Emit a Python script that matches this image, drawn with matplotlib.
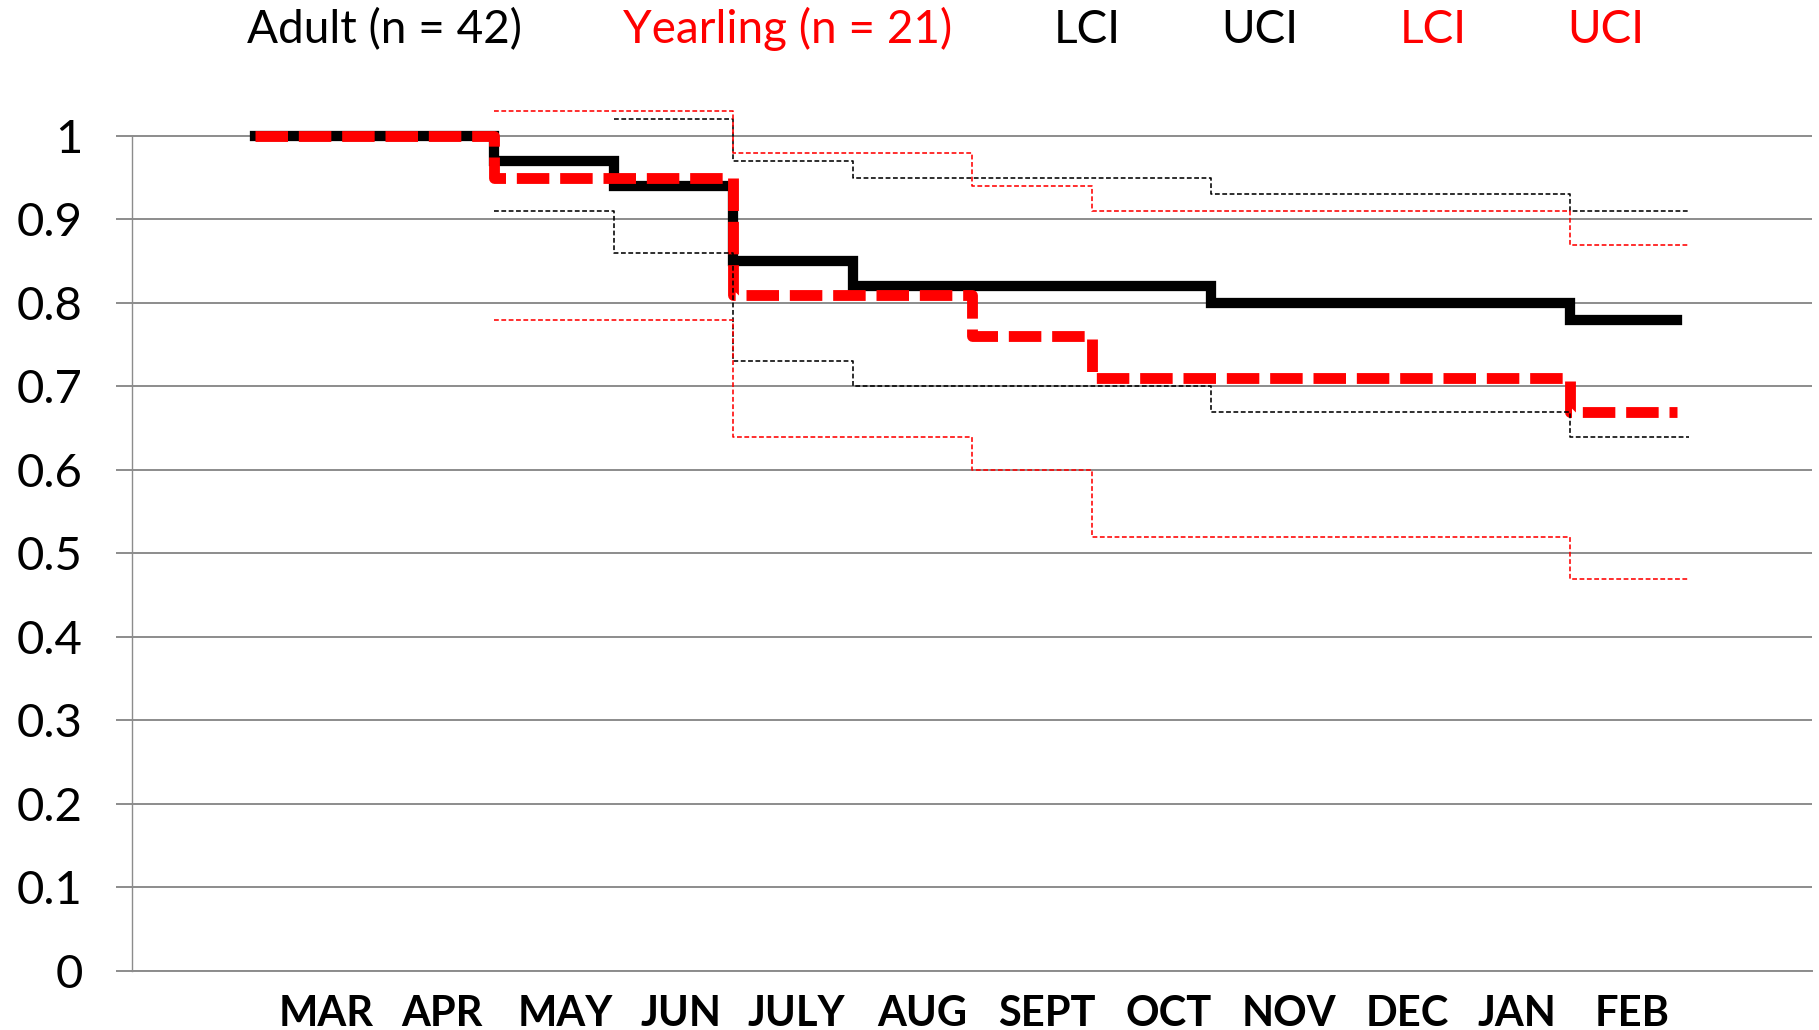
import numpy as np
import matplotlib
matplotlib.use("Agg")
from matplotlib import pyplot as plt
from matplotlib.lines import Line2D

plt.rcParams['font.family'] = ['Lato', 'DejaVu Sans']

# month units on x axis (MAR = 0)
months = ["MAR", "APR", "MAY", "JUN", "JULY", "AUG", "SEPT", "OCT",
          "NOV", "DEC", "JAN", "FEB"]
month_pos = [0.01, 0.98, 2.01, 2.98, 3.95, 5.0, 6.04, 7.06, 8.07, 9.06, 9.98, 10.94]

# survival estimates, step changes at these times
x_main = [-0.58, 1.42, 2.42, 3.42, 4.42, 5.42, 6.42, 7.42, 10.42, 11.32]
adult = [1.0, 0.97, 0.94, 0.85, 0.82, 0.82, 0.82, 0.80, 0.78, 0.78]
yearling = [1.0, 0.95, 0.95, 0.81, 0.81, 0.76, 0.71, 0.71, 0.67, 0.67]

# confidence intervals (nan = not drawn)
x_ci = [1.42, 2.42, 3.42, 4.42, 5.42, 6.42, 7.42, 10.42, 11.42]
adult_lci = [0.91, 0.86, 0.73, 0.70, 0.70, 0.70, 0.67, 0.64, 0.64]
adult_uci = [np.nan, 1.02, 0.97, 0.95, 0.95, 0.95, 0.93, 0.91, 0.91]
year_lci = [0.78, 0.78, 0.64, 0.64, 0.60, 0.52, 0.52, 0.47, 0.47]
year_uci = [1.03, 1.03, 0.98, 0.98, 0.94, 0.91, 0.91, 0.87, 0.87]

labels = ["Adult (n = 42)", "Yearling (n = 21)", "LCI", "UCI", "LCI", "UCI"]
label_colors = ["black", "red", "black", "black", "red", "red"]

grey = "#8c8c8c"

fig = plt.figure(figsize=(18.19, 10.30), dpi=100)
ax = fig.add_axes([0.0726, 0.0573, 0.9236, 0.8512])

ax.step(x_main, adult, where="post", color="black", lw=7.4,
        solid_joinstyle="miter", zorder=3)
ax.step(x_main, yearling, where="post", color="red", lw=7.8,
        linestyle=(0, (3, 1)), zorder=4)
ci_style = dict(where="post", lw=1.15, linestyle=(0, (3, 1.6)), zorder=5)
ax.step(x_ci, adult_lci, color="black", **ci_style)
ax.step(x_ci, adult_uci, color="black", **ci_style)
ax.step(x_ci, year_lci, color="red", **ci_style)
ax.step(x_ci, year_uci, color="red", **ci_style)

ax.set_xlim(-1.612, 12.447)
ax.set_ylim(0, 1.05)

yt = np.round(np.arange(0, 1.01, 0.1), 1)
ax.set_yticks(yt)
ax.set_yticklabels(["0" if v == 0 else ("1" if v == 1 else f"{v:.1f}") for v in yt])
ax.yaxis.grid(True, color=grey, lw=1.4)
ax.set_axisbelow(True)

ax.set_xticks(month_pos)
ax.set_xticklabels(months, fontweight="bold")
ax.tick_params(axis="x", length=0, pad=17, labelsize=30)
ax.tick_params(axis="y", direction="out", length=11.5, width=1.4, color=grey,
               pad=24, labelsize=34)

for side in ["top", "right"]:
    ax.spines[side].set_visible(False)
ax.spines["left"].set_bounds(0, 1)
ax.spines["left"].set_color(grey)
ax.spines["left"].set_linewidth(1.0)
ax.spines["bottom"].set_color(grey)
ax.spines["bottom"].set_linewidth(1.4)

handles = [Line2D([], [], linestyle="none") for _ in labels]
fig.legend(handles, labels, loc="center", bbox_to_anchor=(0.52, 0.972),
           ncol=6, frameon=False, handlelength=0, handletextpad=0,
           columnspacing=2.2, fontsize=33, labelcolor=label_colors)

fig.savefig("out.png", dpi=100)
